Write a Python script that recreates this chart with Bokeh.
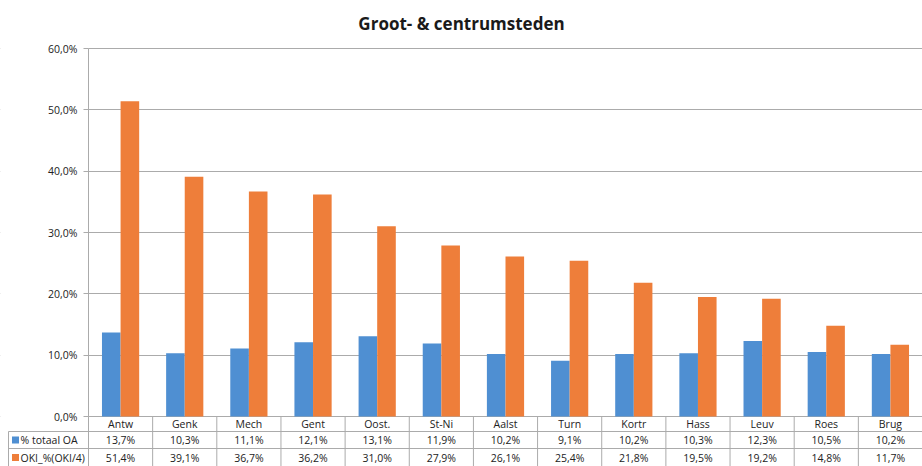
import numpy as np
from bokeh.plotting import figure
from bokeh.models import Range1d, FixedTicker, ColumnDataSource
from bokeh.core.properties import value
from bokeh.embed import file_html
from bokeh.resources import INLINE

# ---- data ----
categories = ["Antw", "Genk", "Mech", "Gent", "Oost.", "St-Ni", "Aalst",
              "Turn", "Kortr", "Hass", "Leuv", "Roes", "Brug"]
totaal_oa = [13.7, 10.3, 11.1, 12.1, 13.1, 11.9, 10.2, 9.1, 10.2, 10.3, 12.3, 10.5, 10.2]
oki_pct = [51.4, 39.1, 36.7, 36.2, 31.0, 27.9, 26.1, 25.4, 21.8, 19.5, 19.2, 14.8, 11.7]
series_names = ["% totaal OA", "OKI_%(OKI/4)"]
y_ticks = [0, 10, 20, 30, 40, 50, 60]
y_tick_labels = ["0,0%", "10,0%", "20,0%", "30,0%", "40,0%", "50,0%", "60,0%"]
title_text = "Groot- & centrumsteden"

# ---- style / layout ----
BLUE = "#4F8FD2"
ORANGE = "#EE7E3A"
GRID = "#ababab"
TXT = "#222222"
FONT = "Open Sans"
W, H = 922, 466
TOP = 40            # px above plot frame (title)
AXIS_X = 88         # px position of value axis
TABLE_X = 8         # px left edge of data table legend column
Y0_PX, Y60_PX = 416, 48
ROW_PX = [416, 431, 448, 466]   # table row boundaries (px)

n = len(categories)
px = (W - AXIS_X) / n                     # px per category
L = AXIS_X / px                           # legend column width (categories)
py = (Y0_PX - Y60_PX) / 60.0              # px per percent
y_top = 60 + (Y60_PX - TOP) / py
y_bot = -(H - Y0_PX) / py
rows = [-(r - Y0_PX) / py for r in ROW_PX]
row_mid = [(rows[i] + rows[i + 1]) / 2 for i in range(3)]

xc = np.arange(n) + 0.5
bw = 0.29

def fmt(v):
    return ("%.1f%%" % v).replace(".", ",")

p = figure(width=W, height=H, x_range=Range1d(-L, n), y_range=Range1d(y_bot, y_top),
           output_backend="svg", toolbar_location=None, x_axis_location=None,
           min_border_left=0, min_border_right=0, min_border_bottom=0,
           min_border_top=TOP, title=title_text)
p.title.align = "center"
p.title.text_font = FONT
p.title.text_font_size = "17px"
p.title.text_font_style = "bold"
p.title.text_color = "#1a1a1a"
p.title.standoff = 12
p.outline_line_color = None
p.xgrid.visible = False
p.ygrid.ticker = FixedTicker(ticks=y_ticks)
p.ygrid.grid_line_color = GRID

ax = p.yaxis[0]
ax.fixed_location = 0
ax.bounds = (0, 60)
ax.ticker = FixedTicker(ticks=y_ticks)
ax.major_label_overrides = {t: l for t, l in zip(y_ticks, y_tick_labels)}
ax.axis_line_color = GRID
ax.major_tick_line_color = GRID
ax.major_tick_out = 5
ax.major_tick_in = 0
ax.minor_tick_line_color = None
ax.major_label_text_font = FONT
ax.major_label_text_font_size = "10.5px"
ax.major_label_text_color = TXT
ax.major_label_standoff = 6

# mask grid lines in the label column
p.quad(left=-L, right=0, bottom=rows[1], top=y_top, fill_color="white", line_color=None)

# bars
src = ColumnDataSource(dict(xb=xc - bw / 2, xo=xc + bw / 2, a=totaal_oa, b=oki_pct))
p.vbar(x="xb", top="a", width=bw, bottom=0, source=src, fill_color=BLUE, line_color=None)
p.vbar(x="xo", top="b", width=bw, bottom=0, source=src, fill_color=ORANGE, line_color=None)

# table borders
edge = -L + TABLE_X / px
p.segment(x0=[edge, edge], y0=rows[1:3], x1=[n, n], y1=rows[1:3], line_color=GRID)
vx = list(range(n))
p.segment(x0=vx, y0=[y_bot] * n, x1=vx, y1=[0] * n, line_color=GRID)
p.segment(x0=[edge], y0=[y_bot], x1=[edge], y1=[rows[1]], line_color=GRID)

# table texts
tsrc = ColumnDataSource(dict(x=xc, cat=categories,
                             a=[fmt(v) for v in totaal_oa],
                             b=[fmt(v) for v in oki_pct]))
common = dict(text_font=value(FONT), text_font_size="10.5px", text_color=TXT,
              text_align="center", text_baseline="middle", source=tsrc)
p.text(x="x", y=row_mid[0], text="cat", **common)
p.text(x="x", y=row_mid[1], text="a", **common)
p.text(x="x", y=row_mid[2], text="b", **common)

# legend keys
p.scatter(x=[edge + 7 / px] * 2, y=row_mid[1:], marker="square", size=7,
          fill_color=[BLUE, ORANGE], line_color=None)
p.text(x=[edge + 12 / px] * 2, y=row_mid[1:], text=series_names,
       text_font=value(FONT), text_font_size="10.5px", text_color=TXT,
       text_align="left", text_baseline="middle")

open("out.html", "w").write(file_html(p, INLINE))
